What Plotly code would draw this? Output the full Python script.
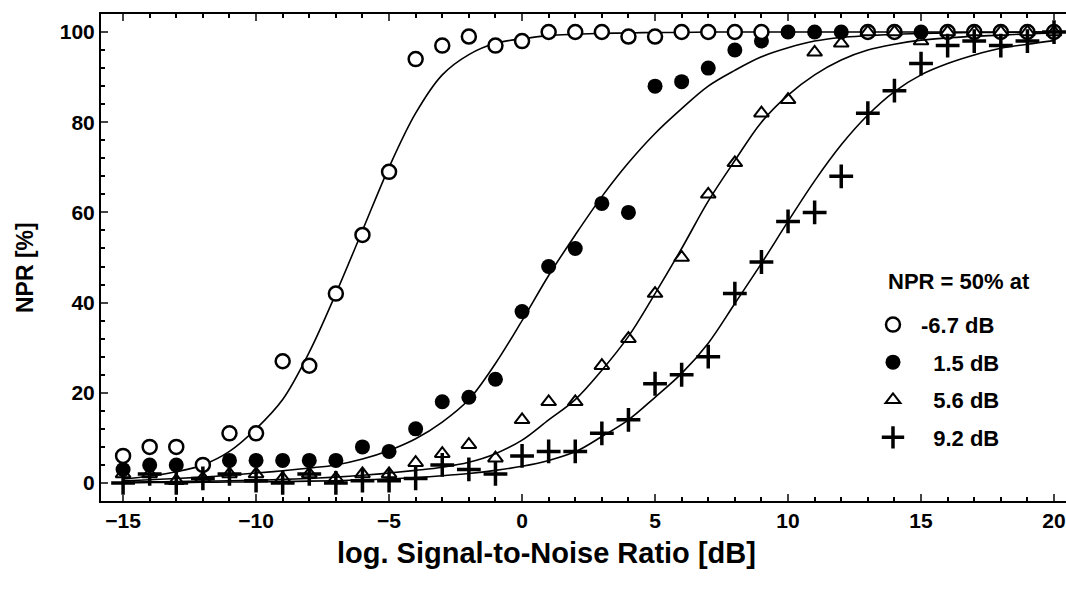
import plotly.graph_objects as go

# measured points, x = SNR in dB
snr = list(range(-15, 21))

npr_m67 = [6, 8, 8, 4, 11, 11, 27, 26, 42, 55, 69, 94, 97, 99, 97, 98, 100, 100,
           100, 99, 99, 100, 100, 100, 100, None, None, None, 100, 100, None,
           100, 100, 100, 100, 100]
npr_15 = [3, 4, 4, None, 5, 5, 5, 5, 5, 8, 7, 12, 18, 19, 23, 38, 48, 52,
          62, 60, 88, 89, 92, 96, 98, 100, 100, 100, None, None, 100,
          None, None, None, None, None]
npr_56 = [2, 2, 0.5, 1, 2, 2, 1, 2, 1, 2, 2, 4.5, 6.5, 8.5, 5.5, 14, 18, 18,
          26, 32, 42, 50, 64, 71, 82, 85, 95.5, 97.5, 100, 100, 98,
          100, 100, 100, 100, 100]
npr_92 = [0, 2, 0, 1, 2, 0.5, 0, 2, 0, 0.5, 0.5, 1, 4, 3, 2, 6, 7, 7,
          11, 14, 22, 24, 28, 42, 49, 58, 60, 68, 82, 87, 93,
          97, 98, 97, 98, 100]

# fitted curves
fit_m67 = [0.9, 1.5, 2.5, 4, 7, 12, 18.5, 29, 42, 56, 70, 82, 90.5, 95, 97.5, 98.5,
           99.2, 99.5, 99.7, 99.8, 99.9, 99.9, 100, 100, 100, 100, 100, 100, 100,
           100, 100, 100, 100, 100, 100, 100]
fit_15 = [0.5, 0.7, 1, 1.3, 1.7, 2.2, 2.7, 3.3, 4, 5.3, 7.2, 9.8, 13.5, 18.5, 26.5,
          36, 46, 55, 63.5, 71, 77.5, 83, 88, 91.5, 94.5, 96.5, 98, 98.8, 99.2,
          99.5, 99.7, 99.8, 99.9, 99.9, 100, 100]
fit_56 = [0.2, 0.25, 0.3, 0.4, 0.5, 0.6, 0.8, 1, 1.3, 1.7, 2.2, 2.8, 3.5, 4.6, 6.5,
          9.5, 14, 18.5, 25, 32.5, 42, 52, 62.5, 71.5, 80, 86, 90.5, 93.8, 96,
          97.3, 98.2, 98.7, 99.1, 99.3, 99.6, 99.8]
fit_92 = [0, 0.1, 0.1, 0.15, 0.2, 0.25, 0.3, 0.4, 0.5, 0.7, 0.9, 1.2, 1.6, 2.1, 2.8,
          3.7, 5, 6.9, 10.3, 14, 19, 24.3, 31, 39.8, 48.7, 58, 67, 75, 81.6,
          86.8, 90.5, 93, 94.9, 96.4, 97.3, 98.1]

labels = ["-6.7 dB", "\u00a0\u00a01.5 dB", "\u00a0\u00a05.6 dB", "\u00a0\u00a09.2 dB"]

FONT = "Liberation Sans, Arial"

fig = go.Figure()

for f in [fit_m67, fit_15, fit_56, fit_92]:
    fig.add_trace(go.Scatter(x=snr, y=f, mode="lines", line=dict(color="black", width=1.6, shape="spline"),
                             showlegend=False, hoverinfo="skip"))

fig.add_trace(go.Scatter(x=snr, y=npr_15, mode="markers", name=labels[1], legendrank=2, legendgroup="b",
                         marker=dict(symbol="circle", size=15, color="black")))
fig.add_trace(go.Scatter(x=snr, y=npr_m67, mode="markers", name=labels[0], legendrank=1, legendgroup="a",
                         marker=dict(symbol="circle", size=14, color="white", line=dict(color="black", width=2.5))))
fig.add_trace(go.Scatter(x=snr, y=npr_56, mode="markers", name=labels[2], legendrank=3, legendgroup="c",
                         marker=dict(symbol="triangle-up-open", size=13, color="black", line=dict(width=2))))
fig.add_trace(go.Scatter(x=snr, y=npr_92, mode="markers", name=labels[3], legendrank=4, legendgroup="d",
                         marker=dict(symbol="cross-thin-open", size=17, color="black", line=dict(width=3.5))))

axis_font = dict(family=FONT, size=21, color="black", weight="bold")

fig.update_xaxes(range=[-15.83, 20.45], tickvals=[-15, -10, -5, 0, 5, 10, 15, 20],
                 ticks="inside", ticklen=7, tickwidth=2, showline=True, linewidth=2, linecolor="black",
                 mirror="ticks", showgrid=False, zeroline=False, tickfont=axis_font,
                 ticklabeloverflow="allow",
                 minor=dict(dtick=1, ticks="inside", ticklen=4, tickwidth=1.5, tickcolor="black"))
fig.update_yaxes(range=[-4, 104], tickvals=[0, 20, 40, 60, 80, 100],
                 ticks="inside", ticklen=7, tickwidth=2, showline=True, linewidth=2, linecolor="black",
                 showgrid=False, zeroline=False, tickfont=axis_font,
                 minor=dict(dtick=4, ticks="inside", ticklen=4, tickwidth=1.5, tickcolor="black"))

# axis titles (off-centre in the original)
fig.add_annotation(text="log. Signal-to-Noise Ratio [dB]", xref="paper", yref="paper",
                   x=0.462, y=-0.107, xanchor="center", yanchor="middle", showarrow=False,
                   font=dict(family=FONT, size=29, color="black", weight="bold"))
fig.add_annotation(text="NPR [%]", xref="paper", yref="paper", textangle=-90,
                   x=-0.079, y=0.48, xanchor="center", yanchor="middle", showarrow=False,
                   font=dict(family=FONT, size=23, color="black", weight="bold"))

fig.add_annotation(text="NPR = 50% at", xref="paper", yref="paper", x=0.8135, y=0.4497,
                   xanchor="left", yanchor="middle", showarrow=False,
                   font=dict(family=FONT, size=22, color="black", weight="bold"))

fig.update_layout(width=1066, height=590, margin=dict(l=101, r=0, t=14, b=89),
                  plot_bgcolor="white", paper_bgcolor="white",
                  legend=dict(x=0.7917, y=0.405, xanchor="left", yanchor="top", tracegroupgap=6,
                              itemwidth=46, bgcolor="rgba(0,0,0,0)",
                              font=dict(family=FONT, size=22, color="black", weight="bold")))

# drop the default 8px body margin so the figure fills the window exactly
fig.write_html("out.html", config={"displayModeBar": False},
               post_script="document.body.style.margin='0';")
